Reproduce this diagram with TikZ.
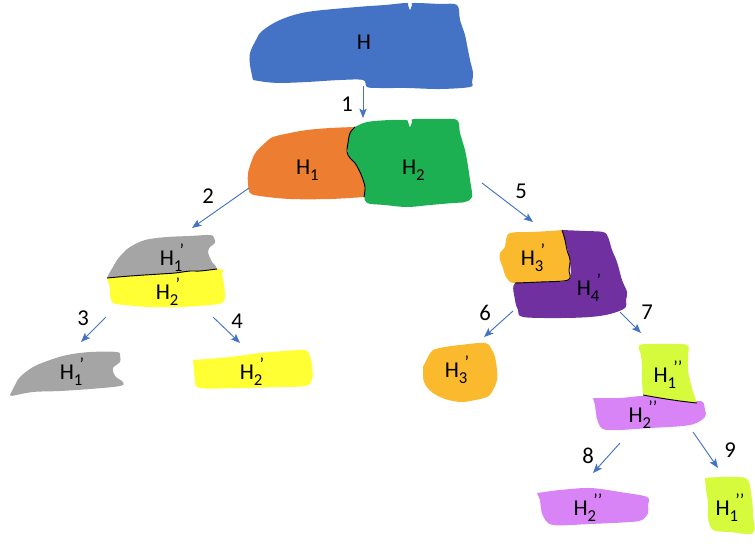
\documentclass[tikz,border=0pt]{standalone}
\usepackage{fontspec}
\setmainfont{Carlito}
\usetikzlibrary{arrows.meta}

\definecolor{cBlue}{RGB}{68,114,196}
\definecolor{cOrange}{RGB}{237,125,49}
\definecolor{cGreen}{RGB}{28,176,82}
\definecolor{cGray}{RGB}{165,165,165}
\definecolor{cYellow}{RGB}{255,255,52}
\definecolor{cGold}{RGB}{251,186,45}
\definecolor{cPurple}{RGB}{112,48,160}
\definecolor{cLime}{RGB}{214,250,60}
\definecolor{cLilac}{RGB}{216,132,246}

\tikzset{
  piece/.style={smooth, tension=0.55},
  seam/.style={draw=black, line width=0.7pt},
  lbl/.style={font=\fontsize{17}{20}\selectfont, inner sep=0pt},
  num/.style={font=\fontsize{17}{20}\selectfont, inner sep=0pt},
  split/.style={draw=cBlue, line width=0.7pt, -{Stealth[length=7pt,width=5.5pt,inset=1.5pt]}}
}
% H with a lowered index and optional prime marks above it
\newcommand{\hsub}[2]{H\raisebox{-0.28em}{\fontsize{12.5}{14}\selectfont #1}\hspace{-0.12em}\raisebox{0.38em}{\fontsize{13.5}{14}\selectfont #2}}

\begin{document}
\begin{tikzpicture}[x=0.75pt, y=-0.75pt]
\useasboundingbox (0,0) rectangle (755,543);

% ---- whole set H
\fill[cBlue] plot[piece] coordinates {(253,80)(250,65)(250,53)(256,40)(262,31)(280,20)(307,12)(357,7)(385,5)(406,3)(408,5)(410,10)(412,5)(414,3)(440,4)(457,5)(460,20)(465,35)(467,45)(470,60)(473,73)(472,82)(470,87)(440,89)(407,88)(380,88)(367,87)(363,80)(340,80)(307,82)(280,83)(265,82)} -- cycle;
\node[lbl] (h) at (364,42) {H};

% ---- H1 | H2
\fill[cGreen] plot[piece] coordinates {(355,127)(367,122)(390,120)(406,120)(408,122)(410,127)(412,122)(414,119)(440,119)(457,120)(460,133)(465,150)(467,160)(470,180)(472,197)(465,202)(453,203)(430,205)(407,207)(385,205)(367,203)(364,195)(360,180)(350,160)(347,145)(350,133)} -- cycle;
\fill[cOrange] plot[piece] coordinates {(364,197)(330,199)(290,199)(260,196)(250,193)(248,183)(248,173)(252,160)(256,152)(265,143)(273,137)(290,133)(307,130)(330,128)(355,127)}
  -- plot[piece] coordinates {(355,127)(350,133)(348,143)(347,152)(350,158)(355,163)(359,170)(362,177)(365,187)(364,197)} -- cycle;
\draw[seam] plot[piece] coordinates {(355,127)(350,133)(348,143)(347,152)(350,158)(355,163)(359,170)(362,177)(365,187)(364,197)};
\node[lbl] (h1) at (306,170) {\hsub{1}{}};
\node[lbl] (h2) at (412,170) {\hsub{2}{}};

% ---- H1' / H2'
\fill[cYellow] plot[piece] coordinates {(107,278)(150,274)(217,269)(222,275)(224,285)(225,297)(222,303)(210,305)(180,307)(150,307)(125,305)(113,303)(110,295)(110,288)} -- cycle;
\fill[cGray] plot[piece] coordinates {(107,278)(110,272)(113,267)(117,260)(123,253)(130,247)(145,240)(167,237)(190,236)(210,235)(214,238)(215,243)(210,247)(208,252)(210,258)(212,262)(215,265)(217,269)}
  -- plot[piece] coordinates {(217,269)(200,271)(190,271)(175,273)(160,274)(130,276)(107,278)} -- cycle;
\draw[seam] plot[piece] coordinates {(217,269)(200,271)(190,271)(175,273)(160,274)(130,276)(107,278)};
\node[lbl] (g1) at (172,258) {\hsub{1}{’}};
\node[lbl] (y2) at (168,292) {\hsub{2}{’}};

\fill[cGray] plot[piece] coordinates {(10,395)(15,385)(20,377)(33,367)(50,360)(67,355)(90,352)(117,352)(120,356)(120,362)(113,368)(115,376)(123,382)(120,386)(90,389)(60,391)(33,392)(12,396)} -- cycle;
\node[lbl] (g1b) at (72,372) {\hsub{1}{’}};
\fill[cYellow] plot[piece] coordinates {(193,360)(230,357)(260,353)(300,350)(308,352)(312,365)(312,380)(305,386)(280,387)(240,388)(200,388)(195,380)(194,370)} -- cycle;
\node[lbl] (y2b) at (252,372) {\hsub{2}{’}};

% ---- H3' / H4'
\fill[cPurple] plot[piece] coordinates {(562,230)(585,231)(603,232)(608,237)(612,250)(617,262)(622,280)(627,292)(626,300)(625,308)(610,314)(590,317)(560,318)(523,317)(518,310)(515,300)(515,283)(540,282)(568,280)(570,262)(565,240)} -- cycle;
\fill[cGold] plot[piece] coordinates {(515,283)(510,282)(505,275)(503,268)(500,260)(500,253)(505,247)(506,240)(510,233)(530,232)(550,231)(562,230)}
  -- plot[piece] coordinates {(562,230)(565,240)(567,250)(570,260)(569,270)(568,280)(540,282)(515,283)} -- cycle;
\draw[seam] plot[piece] coordinates {(562,230)(565,240)(567,250)(570,260)(569,270)(568,280)(540,282)(515,283)};
\node[lbl] (o3) at (533,258) {\hsub{3}{’}};
\node[lbl] (p4) at (589,288) {\hsub{4}{’}};

\fill[cGold] plot[piece] coordinates {(423,367)(428,357)(433,350)(445,347)(460,345)(485,343)(492,350)(495,357)(497,370)(497,380)(493,390)(487,397)(470,401)(460,402)(445,399)(433,393)(426,386)(423,378)} -- cycle;
\node[lbl] (o3b) at (457,370) {\hsub{3}{’}};

% ---- H1'' / H2''
\fill[cLilac] plot[piece] coordinates {(593,398)(620,398)(643,396)(670,398)(697,401)(703,402)(705,410)(705,417)(690,425)(650,428)(607,430)(598,422)(596,413)(595,405)} -- cycle;
\fill[cLime] plot[piece] coordinates {(697,403)(693,392)(690,380)(688,370)(688,355)(687,345)(665,344)(640,345)(641,355)(642,365)(642,380)(643,395)}
  -- plot[piece] coordinates {(643,395)(660,398)(680,401)(697,403)} -- cycle;
\draw[seam] plot[piece] coordinates {(643,395)(660,398)(680,401)(697,403)};
\node[lbl] (l1) at (668,375) {\hsub{1}{’’}};
\node[lbl] (v2) at (643,415) {\hsub{2}{’’}};

\fill[cLilac] plot[piece] coordinates {(537,493)(560,490)(590,488)(620,492)(647,497)(648,505)(648,513)(642,520)(630,522)(590,524)(553,525)(543,516)(541,508)(540,500)} -- cycle;
\node[lbl] (v2b) at (588,508) {\hsub{2}{’’}};
\fill[cLime] plot[piece] coordinates {(705,478)(720,477)(737,477)(748,480)(752,500)(753,515)(753,533)(730,532)(713,530)(708,518)(708,503)(706,490)} -- cycle;
\node[lbl] (l1b) at (730,508) {\hsub{1}{’’}};

% ---- splitting steps
\coordinate (s1a) at (363,86);  \coordinate (s1b) at (363,118);
\coordinate (s2a) at (249,188); \coordinate (s2b) at (192,228);
\coordinate (s3a) at (106,317); \coordinate (s3b) at (81,342);
\coordinate (s4a) at (213,317); \coordinate (s4b) at (240,343);
\coordinate (s5a) at (482,183); \coordinate (s5b) at (533,222);
\coordinate (s6a) at (513,311); \coordinate (s6b) at (484,337);
\coordinate (s7a) at (620,312); \coordinate (s7b) at (641,333);
\coordinate (s8a) at (620,443); \coordinate (s8b) at (593,473);
\coordinate (s9a) at (693,432); \coordinate (s9b) at (718,468);
\foreach \k in {1,...,9} { \draw[split] (s\k a) -- (s\k b); }

\node[num] (n1) at (347,104) {1};
\node[num] (n2) at (208,196) {2};
\node[num] (n3) at (83,318) {3};
\node[num] (n4) at (237,321) {4};
\node[num] (n5) at (521,191) {5};
\node[num] (n6) at (485,313) {6};
\node[num] (n7) at (647,312) {7};
\node[num] (n8) at (588,456) {8};
\node[num] (n9) at (730,450) {9};
\end{tikzpicture}
\end{document}
